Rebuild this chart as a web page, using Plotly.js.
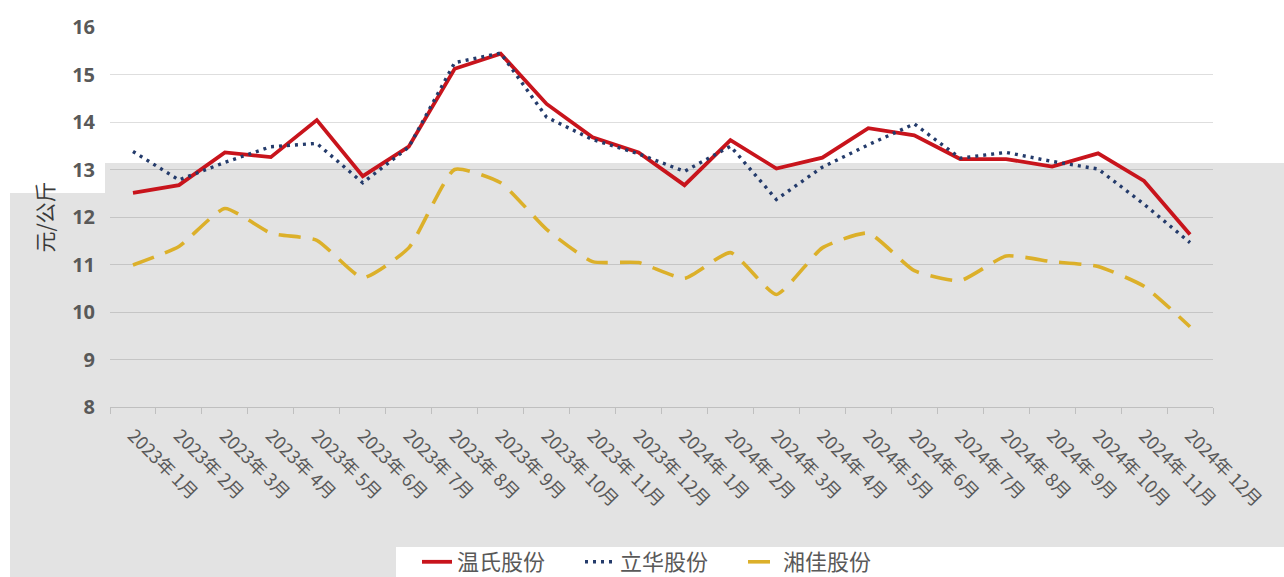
<!DOCTYPE html>
<html>
<head>
<meta charset="utf-8">
<script src="https://cdn.plot.ly/plotly-3.0.1.min.js"></script>
<style>html,body{margin:0;padding:0;background:#fff;}#chart{width:1284px;height:577px;}</style>
</head>
<body>
<div id="chart"></div>
<script>
const months = ["2023年 1月","2023年 2月","2023年 3月","2023年 4月","2023年 5月","2023年 6月","2023年 7月","2023年 8月","2023年 9月","2023年 10月","2023年 11月","2023年 12月",
"2024年 1月","2024年 2月","2024年 3月","2024年 4月","2024年 5月","2024年 6月","2024年 7月","2024年 8月","2024年 9月","2024年 10月","2024年 11月","2024年 12月"];
const wensName = "温氏股份";
const lihuaName = "立华股份";
const xiangjiaName = "湘佳股份";
const wens = [12.51,12.67,13.36,13.26,14.04,12.86,13.48,15.12,15.44,14.38,13.68,13.36,12.67,13.62,13.02,13.25,13.87,13.72,13.22,13.22,13.06,13.34,12.76,11.63];
const lihua = [13.38,12.78,13.15,13.48,13.55,12.72,13.47,15.25,15.45,14.1,13.63,13.33,12.96,13.49,12.37,13.05,13.52,13.96,13.24,13.36,13.17,13.01,12.27,11.46];
const xiangjia = [10.99,11.38,12.18,11.66,11.51,10.72,11.35,13.0,12.72,11.74,11.06,11.04,10.71,11.25,10.37,11.35,11.66,10.87,10.66,11.18,11.06,10.96,10.54,9.69];
const yTitle = "元/公斤";

const W = 1284, H = 577;
const L = 110, R = 1213, T = 27, B = 407;
const px = v => (v - L) / (R - L);
const py = v => (B - v) / (B - T);
const grayFill = "#e3e3e3";
const shapes = [
  {type:"rect", xref:"paper", yref:"paper", x0:px(105), x1:px(1290), y0:py(547), y1:py(163), fillcolor:grayFill, line:{width:0}, layer:"below"},
  {type:"rect", xref:"paper", yref:"paper", x0:px(10), x1:px(106), y0:py(547), y1:py(193), fillcolor:grayFill, line:{width:0}, layer:"below"},
  {type:"rect", xref:"paper", yref:"paper", x0:px(10), x1:px(396), y0:py(580), y1:py(546), fillcolor:grayFill, line:{width:0}, layer:"below"}
];

const traces = [
  {x: months, y: wens, name: wensName, type:"scatter", mode:"lines", line:{color:"#c8141c", width:3.8}},
  {x: months, y: lihua, name: lihuaName, type:"scatter", mode:"lines", line:{color:"#243b6b", width:3.4, dash:"3px,5px"}},
  {x: months, y: xiangjia, name: xiangjiaName, type:"scatter", mode:"lines", line:{color:"#dcb02a", width:3.6, dash:"22px,12px", shape:"spline", smoothing:0.5}}
];

const layout = {
  width:W, height:H,
  margin:{l:L, r:W-R, t:T, b:H-B, pad:0},
  paper_bgcolor:"#ffffff", plot_bgcolor:"rgba(0,0,0,0)",
  font:{family:"'Noto Sans CJK SC', 'Noto Sans', sans-serif", color:"#595959"},
  shapes: shapes,
  showlegend:true,
  legend:{orientation:"h", xref:"paper", x:0.5, xanchor:"center", yref:"container", y:(H-562)/H, yanchor:"middle",
          font:{size:22, color:"#595959"}, bgcolor:"rgba(0,0,0,0)", traceorder:"normal", entrywidth:118, entrywidthmode:"pixels"},
  xaxis:{type:"category", automargin:false, range:[-0.5, months.length-0.5], tickangle:45, tickfont:{size:18, color:"#595959"}, showline:true, linecolor:"#bfbfbf", linewidth:1,
         ticks:"outside", ticklen:6, tickcolor:"#bfbfbf", tickson:"boundaries", showgrid:false, zeroline:false, fixedrange:true,
         ticklabelstandoff:10},
  yaxis:{automargin:false, range:[8,16], dtick:1, tick0:8, tickfont:{size:20, color:"#595959", family:"'Open Sans', sans-serif", weight:"bold"},
         showgrid:true, gridcolor:"rgba(0,0,0,0.13)", gridwidth:1, zeroline:false, showline:false, ticks:"", ticklabelstandoff:14,
         title:{text:yTitle, font:{size:21, color:"#3a3a3a"}, standoff:12}}
};
Plotly.newPlot("chart", traces, layout, {displayModeBar:false, staticPlot:true});
</script>
</body>
</html>
